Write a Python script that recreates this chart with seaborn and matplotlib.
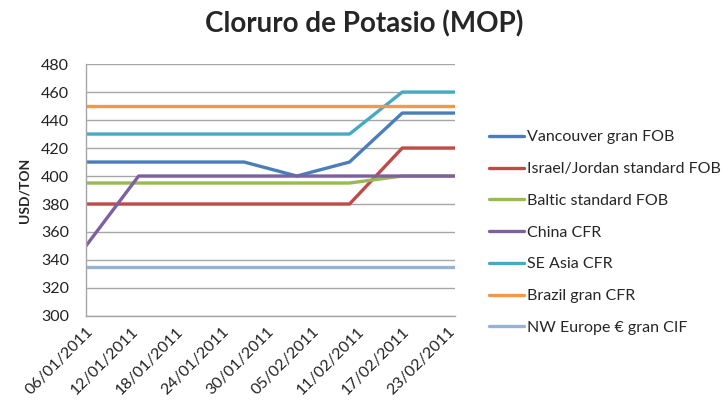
import pandas as pd
import matplotlib.pyplot as plt
import matplotlib.dates as mdates
import seaborn as sns

# --------------------------------------------------------------
# Data (weekly prices, USD/TON)
# --------------------------------------------------------------

dates = ["2011-01-06", "2011-01-13", "2011-01-20", "2011-01-27",
         "2011-02-03", "2011-02-10", "2011-02-17", "2011-02-24"]
tick_dates = ["2011-01-06", "2011-01-12", "2011-01-18", "2011-01-24", "2011-01-30",
              "2011-02-05", "2011-02-11", "2011-02-17", "2011-02-23"]

vancouver = [410, 410, 410, 410, 400, 410, 445, 445]
israel_jordan = [380, 380, 380, 380, 380, 380, 420, 420]
baltic = [395, 395, 395, 395, 395, 395, 400, 400]
china = [350, 400, 400, 400, 400, 400, 400, 400]
se_asia = [430, 430, 430, 430, 430, 430, 460, 460]
brazil = [450, 450, 450, 450, 450, 450, 450, 450]
nw_europe = [335, 335, 335, 335, 335, 335, 335, 335]

series_names = ["Vancouver gran FOB", "Israel/Jordan standard FOB", "Baltic standard FOB",
                "China CFR", "SE Asia CFR", "Brazil gran CFR", "NW Europe € gran CIF"]
series_values = [vancouver, israel_jordan, baltic, china, se_asia, brazil, nw_europe]
colors = ["#4A7EBB", "#BE4B48", "#98B954", "#7D60A0", "#46AAC5", "#F79646", "#95B3D7"]

rows = []
for name, vals in zip(series_names, series_values):
    for d, v in zip(dates, vals):
        rows.append({"fecha": pd.Timestamp(d), "precio": v, "serie": name})
df = pd.DataFrame(rows)

# --------------------------------------------------------------
# Plot
# --------------------------------------------------------------

sns.set_theme(style="white")
plt.rcParams["font.family"] = ["Lato", "DejaVu Sans"]

fig = plt.figure(figsize=(7.28, 4.03), dpi=100)
ax = fig.add_axes([0.118, 0.216, 0.507, 0.625])

sns.lineplot(data=df, x="fecha", y="precio", hue="serie", hue_order=series_names,
             palette=colors, linewidth=2.4, sort=False, ax=ax)

ax.set_ylim(300, 480)
ax.set_yticks(range(300, 481, 20))
ax.set_xlim(pd.Timestamp(dates[0]), pd.Timestamp(dates[-1]))
ax.set_xticks([pd.Timestamp(d) for d in tick_dates])
ax.xaxis.set_major_formatter(mdates.DateFormatter("%d/%m/%Y"))
for lbl in ax.get_xticklabels():
    lbl.set_rotation(45)
    lbl.set_ha("right")
    lbl.set_rotation_mode("anchor")

ax.yaxis.grid(True, color="#A6A6A6", linewidth=1)
ax.set_axisbelow(True)
for side in ["top", "right"]:
    ax.spines[side].set_visible(False)
for side in ["left", "bottom"]:
    ax.spines[side].set_color("#A6A6A6")
    ax.spines[side].set_linewidth(1)
ax.tick_params(axis="both", length=0, labelsize=11.5, colors="#222222")
ax.tick_params(axis="y", pad=12)
ax.tick_params(axis="x", pad=6)

ax.set_xlabel("")
ax.set_ylabel("USD/TON", fontsize=10, fontweight="bold", labelpad=8)

fig.suptitle("Cloruro de Potasio (MOP)", fontsize=20, fontweight="bold", x=0.5, y=0.975)

handles, labels = ax.get_legend_handles_labels()
ax.legend(handles, labels, loc="upper left", bbox_to_anchor=(0.672, 0.677),
          bbox_transform=fig.transFigure, frameon=False, fontsize=11.5,
          borderpad=0, borderaxespad=0,
          handlelength=2.2, handletextpad=0.15, labelspacing=1.1)

fig.savefig("out.png", dpi=100)
